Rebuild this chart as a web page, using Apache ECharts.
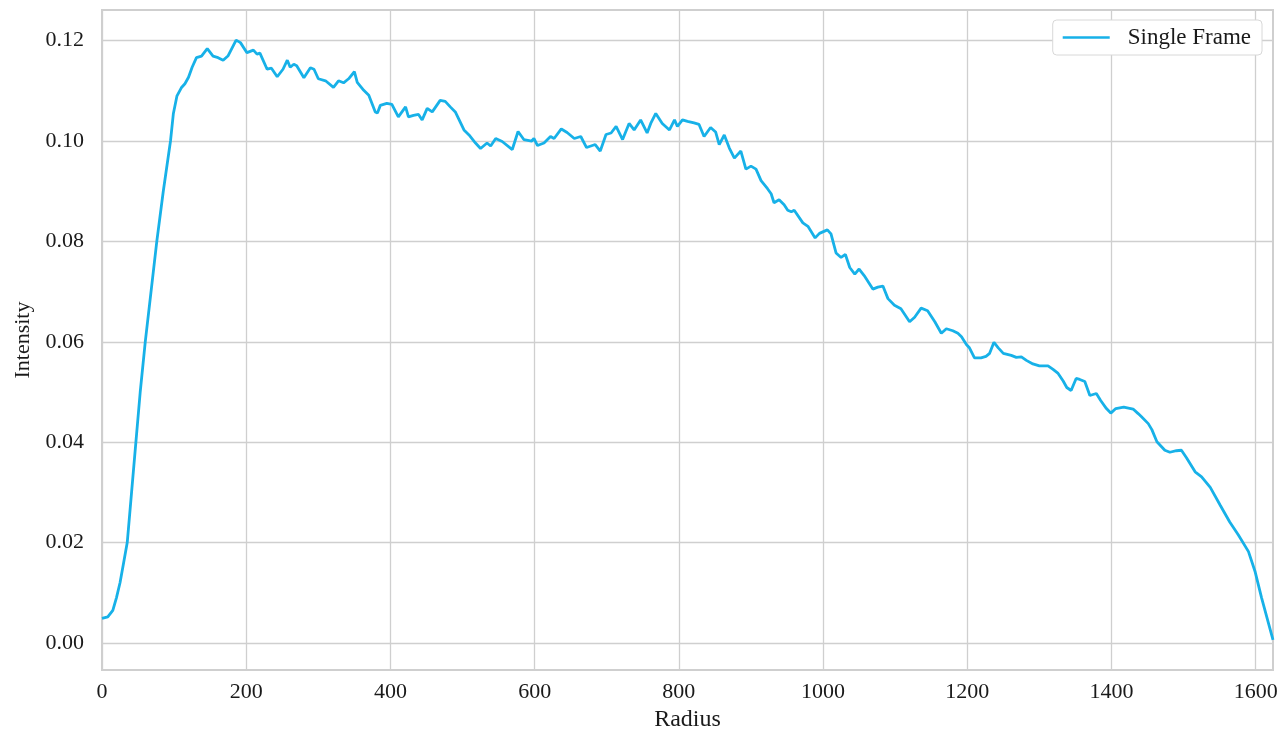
<!DOCTYPE html>
<html>
<head>
<meta charset="utf-8">
<script src="https://cdn.jsdelivr.net/npm/echarts@6/dist/echarts.min.js"></script>
<style>
html,body{margin:0;padding:0;background:#fff;}
#chart{width:1282px;height:737px;}
</style>
</head>
<body>
<div id="chart"></div>
<script>
const radius = [0,8,15,20,25,30,35,41,47,53,60,68,76,85,95,99,104,110,115,120,125,131,138,146,154,161,168,175,186,192,201,210,215,219,229,235,243,251,257,261,266,270,280,289,294,300,310,321,328,335,342,350,354,363,370,379,382,386,395,402,411,421,425,432,439,444,451,458,469,476,483,490,502,509,518,525,534,539,546,555,569,577,585,596,599,604,613,622,627,637,645,655,664,672,680,684,691,699,706,713,722,731,738,747,756,761,768,777,787,794,798,805,812,821,828,835,844,851,856,863,870,877,886,893,900,907,914,923,928,932,939,946,951,956,960,972,979,989,995,1006,1011,1018,1025,1031,1037,1044,1050,1057,1069,1076,1083,1090,1099,1108,1120,1127,1136,1145,1155,1164,1171,1180,1187,1192,1199,1203,1210,1219,1226,1231,1237,1243,1250,1261,1268,1275,1282,1291,1300,1312,1319,1326,1333,1338,1344,1351,1356,1363,1370,1379,1385,1393,1399,1406,1417,1430,1437,1442,1451,1456,1463,1474,1481,1490,1497,1504,1516,1525,1537,1551,1564,1576,1590,1599,1608,1624];
const intensity = [0.0049,0.0052,0.0065,0.0090,0.0120,0.0160,0.0200,0.0300,0.0400,0.0500,0.0600,0.0700,0.0800,0.0900,0.1000,0.1055,0.1090,0.1106,0.1114,0.1127,0.1147,0.1166,0.1169,0.1184,0.1169,0.1166,0.1161,0.1170,0.1201,0.1196,0.1176,0.1181,0.1173,0.1175,0.1143,0.1145,0.1128,0.1143,0.1161,0.1147,0.1153,0.1150,0.1126,0.1146,0.1143,0.1124,0.1120,0.1107,0.1120,0.1116,0.1124,0.1138,0.1117,0.1101,0.1091,0.1058,0.1056,0.1071,0.1075,0.1073,0.1048,0.1068,0.1048,0.1051,0.1053,0.1042,0.1065,0.1058,0.1081,0.1079,0.1068,0.1058,0.1022,0.1012,0.0996,0.0985,0.0996,0.0990,0.1005,0.0999,0.0983,0.1019,0.1003,0.1000,0.1005,0.0991,0.0996,0.1009,0.1005,0.1024,0.1017,0.1005,0.1009,0.0987,0.0991,0.0993,0.0980,0.1013,0.1016,0.1029,0.1003,0.1035,0.1022,0.1042,0.1016,0.1035,0.1055,0.1035,0.1022,0.1042,0.1029,0.1042,0.1039,0.1036,0.1033,0.1009,0.1027,0.1018,0.0993,0.1012,0.0986,0.0966,0.0980,0.0944,0.0950,0.0944,0.0921,0.0905,0.0895,0.0877,0.0883,0.0873,0.0862,0.0859,0.0862,0.0837,0.0830,0.0807,0.0816,0.0823,0.0815,0.0777,0.0768,0.0774,0.0748,0.0735,0.0745,0.0732,0.0705,0.0709,0.0711,0.0686,0.0673,0.0666,0.0640,0.0649,0.0667,0.0662,0.0640,0.0617,0.0626,0.0622,0.0617,0.0610,0.0594,0.0588,0.0568,0.0568,0.0571,0.0577,0.0599,0.0588,0.0577,0.0573,0.0569,0.0570,0.0563,0.0556,0.0552,0.0552,0.0545,0.0537,0.0522,0.0509,0.0503,0.0527,0.0525,0.0521,0.0493,0.0497,0.0483,0.0467,0.0458,0.0467,0.0470,0.0466,0.0457,0.0450,0.0437,0.0425,0.0401,0.0384,0.0380,0.0383,0.0384,0.0369,0.0341,0.0331,0.0310,0.0274,0.0241,0.0215,0.0182,0.0143,0.0091,0.0006];
const xTicks = [0,200,400,600,800,1000,1200,1400,1600];
const yTicks = [0,0.02,0.04,0.06,0.08,0.10,0.12];
const seriesName = 'Single Frame';

const data = radius.map((r, i) => [r, intensity[i]]);
const font = 'Liberation Serif';
const gridColor = '#cfcfcf';
const textColor = '#1a1a1a';

const chart = echarts.init(document.getElementById('chart'), null, {renderer: 'canvas'});
chart.setOption({
  animation: false,
  backgroundColor: '#ffffff',
  grid: {left: 102, right: 9, top: 10, bottom: 56, show: true, borderColor: gridColor, borderWidth: 2, containLabel: false},
  legend: {
    right: 20, top: 20,
    padding: [6, 11, 6, 10],
    backgroundColor: '#ffffff',
    borderColor: '#d8d8d8', borderWidth: 1, borderRadius: 4,
    itemWidth: 47, itemHeight: 14,
    textStyle: {fontFamily: font, fontSize: 23, color: textColor, padding: [0, 0, 0, 13]},
    data: [{name: seriesName, icon: 'path://M0,5.7 L47,5.7 L47,8.3 L0,8.3 Z', itemStyle: {color: '#17b1e8'}}]
  },
  xAxis: {
    type: 'value', min: 0, max: 1624,
    name: 'Radius', nameLocation: 'middle', nameGap: 33,
    nameTextStyle: {fontFamily: font, fontSize: 24, color: textColor},
    axisLine: {show: false},
    axisTick: {show: false, customValues: xTicks},
    axisLabel: {customValues: xTicks, fontFamily: font, fontSize: 22, color: textColor, margin: 11,
      formatter: v => String(Math.round(v))},
    splitLine: {show: true, lineStyle: {color: gridColor, width: 1.3}}
  },
  yAxis: {
    type: 'value', min: -0.0054, max: 0.1261,
    name: 'Intensity', nameLocation: 'middle', nameGap: 66,
    nameTextStyle: {fontFamily: font, fontSize: 22, color: textColor},
    axisLine: {show: false},
    axisTick: {show: false, customValues: yTicks},
    axisLabel: {customValues: yTicks, fontFamily: font, fontSize: 22, color: textColor, margin: 18,
      formatter: v => v.toFixed(2)},
    splitLine: {show: true, lineStyle: {color: gridColor, width: 1.3}}
  },
  series: [{
    name: seriesName, type: 'line', data: data,
    symbol: 'none', smooth: false,
    lineStyle: {color: '#17b1e8', width: 2.8},
    itemStyle: {color: '#17b1e8'}
  }]
});
</script>
</body>
</html>
